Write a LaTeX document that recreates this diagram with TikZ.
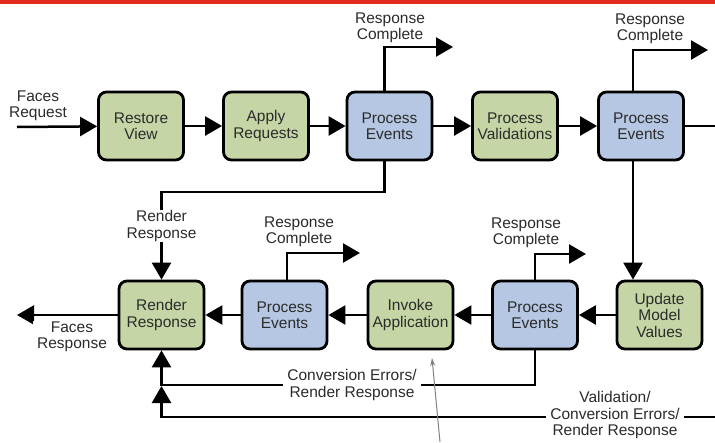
\documentclass[tikz,border=0pt]{standalone}
\usepackage{fontspec}
\setmainfont{Liberation Sans}
\usetikzlibrary{arrows.meta}
\definecolor{phasegreen}{HTML}{C6D5A5}
\definecolor{eventblue}{HTML}{B5C7E3}
\definecolor{redbar}{HTML}{E42A1C}
\definecolor{labelgray}{HTML}{2B2B2B}

\begin{document}
\begin{tikzpicture}[x=1pt,y=-1pt,
        font=\fontsize{15.5}{16.5}\selectfont,
        phase/.style = {draw, line width=2.8pt, rounded corners=8pt, fill=phasegreen,
            minimum width=85pt, minimum height=68pt, align=center, text=labelgray},
        event/.style = {phase, fill=eventblue},
        flow/.style = {line width=2.5pt, -{Triangle[length=17pt,width=19pt]}},
        plain/.style = {line width=2.5pt},
        lbl/.style = {align=center, fill=white, inner xsep=4pt, inner ysep=1pt, text=labelgray},
        pointer/.style = {gray, line width=1pt, -{Stealth[length=8pt,width=5pt]}}]
    \useasboundingbox (0,0) rectangle (715,442);
    \fill[redbar] (0,0) rectangle (715,4);

    % top row
    \node[phase] (restore) at (141,126) {Restore\\View};
    \node[phase] (apply)   at (266,126) {Apply\\Requests};
    \node[event] (events1) at (389.5,126) {Process\\Events};
    \node[phase] (valid)   at (515,126) {Process\\Validations};
    \node[event] (events2) at (641,126) {Process\\Events};

    % bottom row
    \node[phase] (render)  at (161.5,315) {Render\\Response};
    \node[event] (events3) at (284.5,315) {Process\\Events};
    \node[phase] (invoke)  at (410.5,315) {Invoke\\Application};
    \node[event] (events4) at (535,315) {Process\\Events};
    \node[phase] (update)  at (659.5,315) {Update\\Model\\Values};

    \coordinate (reqin)   at (17,127);
    \coordinate (respout) at (17,315);
    \coordinate (exitright) at (715,126);
    \coordinate (done1) at (453,47);
    \coordinate (done2) at (708,50);
    \coordinate (done3) at (360,253);
    \coordinate (done4) at (586,254);
    \coordinate (rrturn)  at (161.5,192);
    \coordinate (converr) at (161.5,385);
    \coordinate (valin)   at (715,417);
    \coordinate (joinpt)  at (161.5,386);
    \coordinate (ptrfoot) at (440,442);
    \coordinate (ptrtip)  at (432,358);

    \draw[flow] (reqin) -- (restore);
    \draw[flow] (restore) -- (apply);
    \draw[flow] (apply) -- (events1);
    \draw[flow] (events1) -- (valid);
    \draw[flow] (valid) -- (events2);
    \draw[plain] (events2) -- (exitright);

    \draw[flow] ([xshift=-5pt]events1.north) |- (done1);
    \draw[flow] ([xshift=-8pt]events2.north) |- (done2);
    \draw[flow] ([xshift=2.5pt]events3.north) |- (done3);
    \draw[flow] (events4.north) |- (done4);

    \draw[flow] ([xshift=-5pt]events1.south) |- (rrturn) -- (render.north);
    \draw[flow] ([xshift=-8pt]events2.south) -- ([xshift=-8pt]events2.south |- update.north);

    \draw[flow] (update) -- (events4);
    \draw[flow] (events4) -- (invoke);
    \draw[flow] (invoke) -- (events3);
    \draw[flow] (events3) -- (render);
    \draw[flow] (render) -- (respout);

    \draw[flow] (events4.south) |- (converr) -- (render.south);
    \draw[flow] (valin) -| (joinpt);

    \draw[pointer] (ptrfoot) -- (ptrtip);

    % labels
    \node[lbl] (facesreq)  at (38,106) {Faces\\Request};
    \node[lbl] (facesresp) at (72,337) {Faces\\Response};
    \node[lbl] (rc1) at (390,28) {Response\\Complete};
    \node[lbl] (rc2) at (650,29) {Response\\Complete};
    \node[lbl] (rc3) at (299,232) {Response\\Complete};
    \node[lbl] (rc4) at (526,233) {Response\\Complete};
    \node[lbl] (rrlbl)   at (161.5,226) {Render\\Response};
    \node[lbl] (convlbl) at (352,385) {Conversion Errors/\\Render Response};
    \node[lbl] (vallbl)  at (615,415) {Validation/\\Conversion Errors/\\Render Response};
\end{tikzpicture}
\end{document}
